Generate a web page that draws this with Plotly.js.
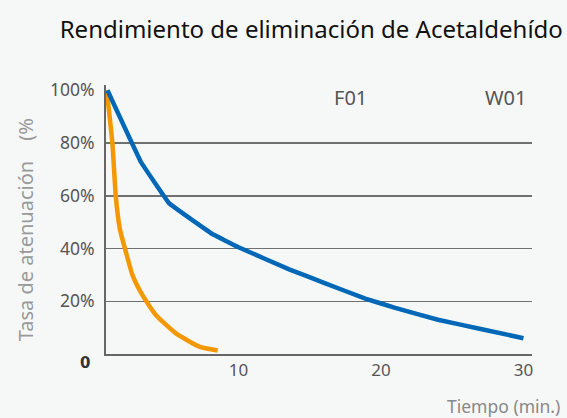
<!DOCTYPE html>
<html><head><meta charset="utf-8">
<script src="https://cdn.plot.ly/plotly-3.0.1.min.js"></script>
<style>html,body{margin:0;padding:0;background:#f6f8f8;}</style>
</head><body><div id="chart" style="width:567px;height:418px;"></div>
<script>
const titleText = "Rendimiento de eliminación de Acetaldehído";
const yTitle = "Tasa de atenuación\u3000(%";
const xTitle = "Tiempo (min.)";
const seriesNames = ["F01", "W01"];
const w01Time = [0.8, 3.15, 5.14, 8.1, 10, 13.6, 16, 18.9, 21, 24, 27, 30];
const w01Rate = [100, 72.8, 57.1, 45.7, 40.5, 32, 27, 21, 17.5, 13, 9.5, 6];
const f01Time = [0.75, 1.15, 1.39, 1.67, 2.09, 2.56, 3.26, 4.2, 5.61, 7.25, 8.54];
const f01Rate = [100, 79.8, 59.6, 47.5, 38.8, 29.9, 22.3, 14.8, 7.8, 2.8, 1.3];
const yTickVals = [20, 40, 60, 80, 100];
const yTickText = ["20%", "40%", "60%", "80%", "100%"];
const yGridVals = [20, 40, 60, 80];
const xTickVals = [10, 20, 30];

const traces = [
  {x: f01Time, y: f01Rate, name: seriesNames[0], mode: "lines", line: {color: "#f39800", width: 4.5, shape: "spline", smoothing: 0.5}},
  {x: w01Time, y: w01Rate, name: seriesNames[1], mode: "lines", line: {color: "#0068b7", width: 4.5, shape: "spline", smoothing: 0.15}}
];
const layout = {
  width: 567, height: 418,
  margin: {l: 106, r: 35, t: 85, b: 64},
  paper_bgcolor: "#f6f8f8", plot_bgcolor: "#f6f8f8",
  showlegend: false,
  font: {family: "Noto Sans", color: "#555"},
  title: {text: titleText, x: 0.549, xanchor: "center", y: 0.928, yanchor: "middle", font: {size: 24, color: "#111", family: "Noto Sans"}},
  xaxis: {range: [0.7, 30.6], tickvals: xTickVals, showgrid: false, zeroline: false, showline: true, linecolor: "#666", linewidth: 2, ticks: "", tickfont: {size: 17, color: "#555"}},
  yaxis: {range: [0, 102], tickvals: yTickVals, ticktext: yTickText, showgrid: false, zeroline: false, showline: true, linecolor: "#666", linewidth: 2, ticks: "", ticklabelstandoff: 6, tickfont: {size: 17.5, color: "#555"}},
  yaxis2: {range: [0, 102], overlaying: "y", tickvals: yGridVals, showgrid: true, gridcolor: "#707070", gridwidth: 1.5, showticklabels: false, zeroline: false, showline: false},
  annotations: [
    {text: seriesNames[0], xref: "paper", yref: "paper", x: 0.573, y: 0.955, xanchor: "center", yanchor: "middle", showarrow: false, font: {size: 20, color: "#555"}},
    {text: seriesNames[1], xref: "paper", yref: "paper", x: 0.937, y: 0.955, xanchor: "center", yanchor: "middle", showarrow: false, font: {size: 20, color: "#555"}},
    {text: "<b>0</b>", xref: "paper", yref: "y", x: 0, y: 0, xshift: -21, yshift: -9, xanchor: "center", yanchor: "middle", showarrow: false, font: {size: 15, color: "#333", family: "DejaVu Sans"}},
    {text: xTitle, xref: "paper", yref: "paper", x: 1, y: 0, xshift: 30, yshift: -52, xanchor: "right", yanchor: "middle", showarrow: false, font: {size: 17.5, color: "#888"}},
    {text: yTitle, xref: "paper", yref: "paper", x: 0, y: 0.46, xshift: -81, xanchor: "center", yanchor: "middle", textangle: -90, showarrow: false, font: {size: 20, color: "#9a9a9a"}}
  ]
};
traces.push({x: [], y: [], yaxis: "y2", showlegend: false, hoverinfo: "skip"});
Plotly.newPlot("chart", traces, layout, {displayModeBar: false, staticPlot: true});
</script></body></html>
